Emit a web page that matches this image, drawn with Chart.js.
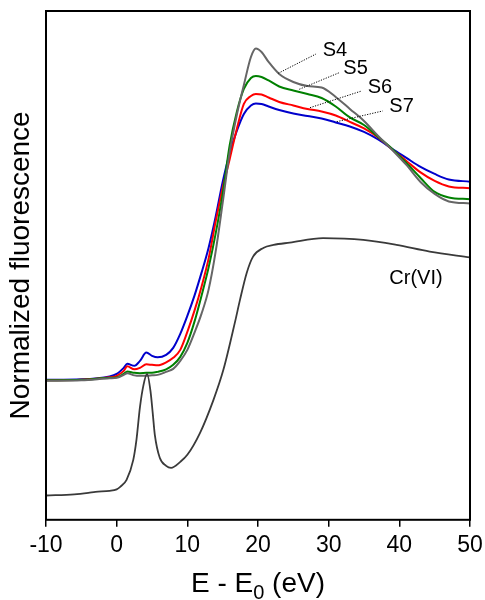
<!DOCTYPE html>
<html>
<head>
<meta charset="utf-8">
<script src="https://cdn.jsdelivr.net/npm/chart.js@4/dist/chart.umd.min.js"></script>
<style>
  html, body { margin: 0; padding: 0; background: #fff; }
  #wrap { width: 485px; height: 600px; }
</style>
</head>
<body>
<div id="wrap"><canvas id="c" width="485" height="600"></canvas></div>
<script>
// ---- data (x: E - E0 in eV, y: normalized fluorescence, arbitrary offset units) ----
const energy = [-10, -5, -1, 0, 1, 1.5, 2.5, 3.3, 4.2, 5, 5.8, 7, 8, 9, 10, 11, 12, 13, 14, 15, 16, 17, 18, 19, 19.7, 20.5, 21.5, 23, 25, 27, 29, 31, 33, 35, 37, 39, 41, 43, 45, 47, 50];
const s4 = [139, 139.5, 141.5, 142, 145, 146.7, 144.5, 144, 144, 144.5, 145, 148, 151, 159, 170, 187, 206, 230, 268, 317, 368, 405, 435, 463, 471.5, 468, 458, 446, 438, 434, 432.5, 423, 411, 399, 384, 370, 355, 338, 326, 318.5, 316.5];
const s5 = [139.5, 140, 142, 142.5, 146, 148.3, 147, 146.7, 147, 147, 148, 150.5, 155, 163, 177, 198, 224, 252, 286, 326, 375, 408, 431, 442, 444, 443, 439.5, 433.5, 429.5, 426, 422, 413.5, 402.5, 395, 383, 371, 357, 342, 328, 322.5, 320.7];
const s6 = [139.5, 140, 142.5, 144, 149, 153.5, 150.5, 152, 155.5, 155, 154.5, 157.5, 162, 170, 188, 209, 233, 261, 298, 332, 361, 391, 416, 424, 426, 425.5, 422.5, 418, 414.5, 411, 408.5, 404.5, 398, 391.5, 382.5, 370.5, 359, 347.5, 339, 333.5, 331.7];
const s7 = [140, 140.5, 143.5, 146, 152, 156, 154, 159, 167.3, 164, 162.5, 165, 172, 186, 204, 224, 247, 272, 303, 338, 367, 389, 406, 414.5, 416.5, 416, 413.5, 410, 406.5, 404, 401.5, 397.5, 393.5, 388, 380.5, 371, 362, 353, 346, 340.5, 338.3];

const crEnergy = [-10, -6, -4, -3, -1, 0, 0.5, 1.4, 2.35, 2.8, 3.3, 3.8, 4.3, 4.8, 5.1, 5.4, 6.1, 7, 7.7, 9, 10, 11.8, 13.7, 15.1, 16.75, 17.45, 18.4, 19.3, 20.75, 22.2, 24.5, 29.2, 34.9, 39.6, 44.3, 50];
const crVI = [24.3, 25.5, 27, 28, 29, 30.5, 33, 40, 60, 80, 113, 135, 146, 128, 107, 85, 62, 54, 52, 58, 65, 87, 120, 150, 198, 220, 247, 263.3, 272, 275, 277.3, 281.7, 280, 275, 268.3, 262.5];

const xTicks = [-10, 0, 10, 20, 30, 40, 50];

// axis title pieces: main text, subscript, rest
const xTitleParts = ['E - E', '0', ' (eV)'];
const yTitle = 'Normalized fluorescence';

// curve labels (data coordinates) and dotted leader lines
const labelText = ['S4', 'S5', 'S6', 'S7', 'Cr(VI)'];
const labelE    = [29.15, 32.07, 35.52, 38.58, 38.58];
const labelV    = [470, 451.7, 432.7, 413.3, 241];
const leaderE0  = [22.87, 25.84, 27.36, 31.14];
const leaderV0  = [446.7, 430.7, 412.3, 398.3];
const leaderE1  = [28.21, 31.5, 34.67, 37.65];
const leaderV1  = [466, 447.3, 429, 409];

const FONT = "'Liberation Sans', Arial, Helvetica, sans-serif";
Chart.defaults.font.family = FONT;
Chart.defaults.color = '#000';

function pts(xs, ys) { return xs.map((x, i) => ({ x: x, y: ys[i] })); }

const series = [
  { name: 'Cr(VI)', xs: crEnergy, ys: crVI, color: '#3a3a3a', w: 1.8 },
  { name: 'S4', xs: energy, ys: s4, color: '#666666', w: 2 },
  { name: 'S5', xs: energy, ys: s5, color: '#008000', w: 2 },
  { name: 'S6', xs: energy, ys: s6, color: '#ff0000', w: 2 },
  { name: 'S7', xs: energy, ys: s7, color: '#0000cc', w: 2 }
];

const annot = {
  id: 'annot',
  afterDatasetsDraw(chart) {
    const ctx = chart.ctx, xs = chart.scales.x, ys = chart.scales.y, a = chart.chartArea;
    ctx.save();
    // dotted leaders
    ctx.strokeStyle = '#000';
    ctx.lineWidth = 1;
    ctx.setLineDash([1.2, 1.4]);
    for (let i = 0; i < leaderE0.length; i++) {
      ctx.beginPath();
      ctx.moveTo(xs.getPixelForValue(leaderE0[i]), ys.getPixelForValue(leaderV0[i]));
      ctx.lineTo(xs.getPixelForValue(leaderE1[i]), ys.getPixelForValue(leaderV1[i]));
      ctx.stroke();
    }
    ctx.setLineDash([]);
    // labels
    ctx.fillStyle = '#000';
    ctx.font = '20px ' + FONT;
    ctx.textAlign = 'left';
    ctx.textBaseline = 'middle';
    for (let i = 0; i < labelText.length; i++) {
      ctx.fillText(labelText[i], xs.getPixelForValue(labelE[i]), ys.getPixelForValue(labelV[i]));
    }
    // frame
    ctx.lineWidth = 2;
    ctx.strokeStyle = '#000';
    ctx.strokeRect(a.left, a.top, a.right - a.left, a.bottom - a.top);

    // x axis title with subscript
    const big = '28px ' + FONT, small = '20px ' + FONT;
    ctx.textBaseline = 'alphabetic';
    ctx.textAlign = 'left';
    ctx.font = big;
    const w0 = ctx.measureText(xTitleParts[0]).width;
    const w2 = ctx.measureText(xTitleParts[2]).width;
    ctx.font = small;
    const w1 = ctx.measureText(xTitleParts[1]).width;
    const total = w0 + w1 + w2;
    let x = (a.left + a.right) / 2 - total / 2;
    const base = a.bottom + 72.5;
    ctx.font = big;
    ctx.fillText(xTitleParts[0], x, base);
    x += w0;
    ctx.font = small;
    ctx.fillText(xTitleParts[1], x, base + 7);
    x += w1;
    ctx.font = big;
    ctx.fillText(xTitleParts[2], x, base);
    ctx.restore();
  }
};

new Chart(document.getElementById('c'), {
  type: 'line',
  data: {
    datasets: series.map(s => ({
      label: s.name,
      data: pts(s.xs, s.ys),
      borderColor: s.color,
      backgroundColor: s.color,
      borderWidth: s.w,
      pointRadius: 0,
      fill: false,
      cubicInterpolationMode: 'monotone'
    }))
  },
  options: {
    responsive: false,
    animation: false,
    layout: { padding: { left: 0, right: 15, top: 11, bottom: 35.2 } },
    plugins: { legend: { display: false }, tooltip: { enabled: false } },
    scales: {
      x: {
        type: 'linear',
        min: -10, max: 50,
        afterBuildTicks: (scale) => { scale.ticks = xTicks.map(v => ({ value: v })); },
        afterFit: (scale) => { scale.paddingLeft = 0; scale.paddingRight = 0; },
        ticks: { font: { size: 23 }, padding: 5.2, color: '#000', maxRotation: 0 },
        grid: { display: true, drawOnChartArea: false, drawTicks: true, tickLength: 7, color: '#000', lineWidth: 1.5 },
        border: { display: false },
        title: { display: false }
      },
      y: {
        type: 'linear',
        min: 0, max: 509,
        ticks: { display: false },
        grid: { display: false, drawTicks: false },
        border: { display: false },
        title: { display: true, text: yTitle, font: { size: 28 }, color: '#000', padding: { top: 4, bottom: 8.4 } }
      }
    }
  },
  plugins: [annot]
});
</script>
</body>
</html>
